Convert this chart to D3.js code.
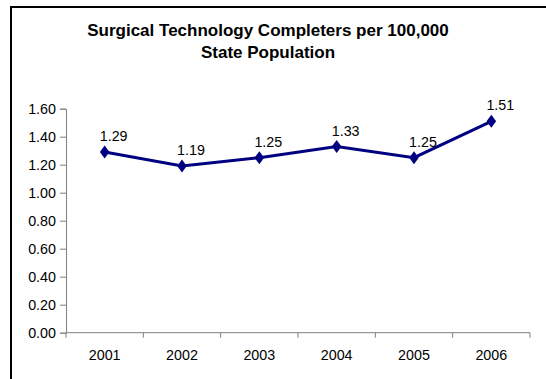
<!DOCTYPE html>
<html><head><meta charset="utf-8">
<script src="https://cdn.jsdelivr.net/npm/d3@7"></script>
<style>body{margin:0;background:#fff}svg{display:block;font-family:"Liberation Sans",Arial,sans-serif}</style>
</head><body><svg id="c" width="546" height="379"></svg>
<script>
const years = ["2001","2002","2003","2004","2005","2006"];
const values = [1.29, 1.19, 1.25, 1.33, 1.25, 1.51];
const yTicks = [0, 0.2, 0.4, 0.6, 0.8, 1.0, 1.2, 1.4, 1.6];
const titleLines = ["Surgical Technology Completers per 100,000", "State Population"];

const svg = d3.select("#c");
svg.append("rect").attr("x",11).attr("y",7).attr("width",700).attr("height",500)
  .attr("fill","#fff").attr("stroke","#000").attr("stroke-width",2);

const x = d3.scaleBand().domain(years).range([66,530]);
const y = d3.scaleLinear().domain([0,1.6]).range([332.7,108.7]);

svg.append("g").selectAll("text").data(titleLines).join("text")
  .attr("x",268).attr("y",(d,i)=>36+i*21.5).attr("text-anchor","middle")
  .attr("font-size",17).attr("font-weight","bold").attr("fill","#000").text(d=>d);

const ya = svg.append("g").attr("transform","translate(66,0)")
  .call(d3.axisLeft(y).tickValues(yTicks).tickFormat(d3.format(".2f")).tickSizeOuter(0).tickSize(6).tickPadding(4));
ya.select(".domain").attr("stroke","#808080");
ya.selectAll(".tick line").attr("stroke","#808080");
ya.selectAll("text").attr("font-size",14.3).attr("fill","#000").attr("font-family","Liberation Sans, Arial, sans-serif");

const xa = svg.append("g").attr("transform","translate(0,332.7)");
xa.append("line").attr("x1",66).attr("x2",530).attr("stroke","#808080");
const bounds = years.map(d=>x(d)).concat([x(years[years.length-1])+x.bandwidth()]);
xa.selectAll("line.t").data(bounds).join("line").attr("class","t")
  .attr("x1",d=>d).attr("x2",d=>d).attr("y1",0).attr("y2",5).attr("stroke","#808080");
xa.selectAll("text").data(years).join("text")
  .attr("x",d=>x(d)+x.bandwidth()/2).attr("y",27).attr("text-anchor","middle")
  .attr("font-size",14.3).attr("fill","#000").text(d=>d);

const data = years.map((d,i)=>({year:d, v:values[i]}));
const cx = d=>x(d.year)+x.bandwidth()/2;
svg.append("path").datum(data)
  .attr("d", d3.line().x(cx).y(d=>y(d.v)))
  .attr("fill","none").attr("stroke","#000080").attr("stroke-width",3);
svg.append("g").selectAll("path").data(data).join("path")
  .attr("d", d3.symbol(d3.symbolDiamond, 60))
  .attr("transform", d=>`translate(${cx(d)},${y(d.v)}) scale(1.15,0.9)`)
  .attr("fill","#000080");
svg.append("g").selectAll("text").data(data).join("text")
  .attr("x", d=>cx(d)+9).attr("y", d=>y(d.v)-11).attr("text-anchor","middle")
  .attr("font-size",14.3).attr("fill","#000").text(d=>d3.format(".2f")(d.v));
</script></body></html>
